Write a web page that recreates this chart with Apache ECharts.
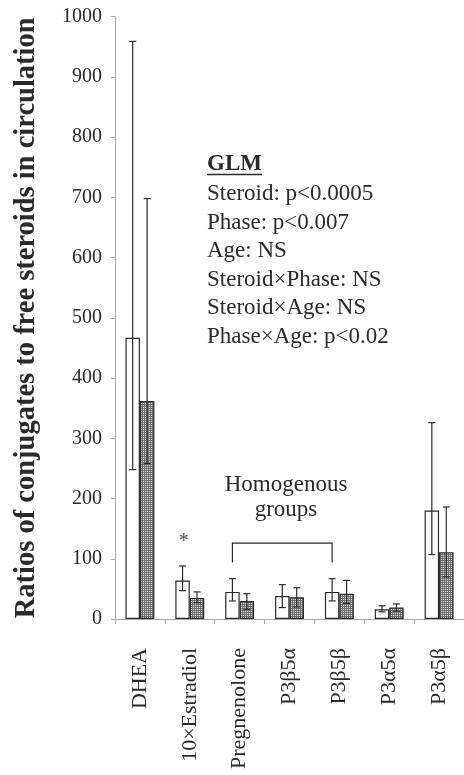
<!DOCTYPE html>
<html>
<head>
<meta charset="utf-8">
<script src="https://cdn.jsdelivr.net/npm/echarts@6/dist/echarts.min.js"></script>
<style>
  html, body { margin: 0; padding: 0; background: #fff; }
  #chart { width: 464px; height: 775px; }
</style>
</head>
<body>
<div id="chart"></div>
<script>
// ── Datos ───────────────────────────────────────────────────────────────────
const categories = ['DHEA', '10×Estradiol', 'Pregnenolone', 'P3β5α', 'P3β5β', 'P3α5α', 'P3α5β'];

// barras blancas (fase 1)
const openMean = [467, 64, 45, 38, 45, 16, 180];
const openLow  = [248, 47, 30, 19, 30, 12, 107];
const openHigh = [959, 88, 67, 57, 67, 22, 326];

// barras punteadas (fase 2)
const dotMean = [362, 35, 30, 36, 42, 19, 111];
const dotLow  = [258, 27, 16, 20, 26, 13, 70];
const dotHigh = [698, 45, 42, 52, 64, 25, 186];

const yMin = 0, yMax = 1000, yStep = 100;

const starCat = 1, starValue = 128;
const bracketCats = [2, 4];           // Pregnenolone .. P3β5β
const bracketLevels = [94, 126];      // extremo inferior, barra superior

const glmTitle = 'GLM';
const glmLines = [
  'Steroid: p<0.0005',
  'Phase: p<0.007',
  'Age: NS',
  'Steroid×Phase: NS',
  'Steroid×Age: NS',
  'Phase×Age: p<0.02',
];
const groupLines = ['Homogenous', 'groups'];

// ── Estilo ──────────────────────────────────────────────────────────────────
const FONT = 'Liberation Serif, Times New Roman, serif';
const INK = '#2a2a2a';
const AXIS = '#a8a8a8';
const BAR_SHIFT = 0.145;   // mitad del ancho de barra, en fracción de categoría

function dotPattern() {
  const c = document.createElement('canvas');
  c.width = 2; c.height = 2;
  const ctx = c.getContext('2d');
  ctx.fillStyle = '#707070';
  ctx.fillRect(0, 0, 2, 2);
  ctx.fillStyle = '#dcdcdc';
  ctx.fillRect(1, 1, 1, 1);
  return c;
}

function errorSeries(low, high, side) {
  return {
    type: 'custom',
    silent: true,
    z: 5,
    data: low.map((l, i) => [i, l, high[i]]),
    renderItem: (params, api) => {
      const w = api.size([1, 0])[0];
      const lo = api.coord([api.value(0), api.value(1)]);
      const hi = api.coord([api.value(0), api.value(2)]);
      const x = lo[0] + side * BAR_SHIFT * w;
      const cap = 3.5;
      const style = { stroke: INK, lineWidth: 1.2, fill: null };
      return {
        type: 'group',
        children: [
          { type: 'line', shape: { x1: x, y1: lo[1], x2: x, y2: hi[1] }, style },
          { type: 'line', shape: { x1: x - cap, y1: hi[1], x2: x + cap, y2: hi[1] }, style },
          { type: 'line', shape: { x1: x - cap, y1: lo[1], x2: x + cap, y2: lo[1] }, style },
        ],
      };
    },
  };
}

const chart = echarts.init(document.getElementById('chart'), null, { renderer: 'canvas' });

chart.setOption({
  animation: false,
  textStyle: { fontFamily: FONT },
  grid: { left: 115, right: 0, top: 16.7, bottom: 156 },
  xAxis: {
    type: 'category',
    data: categories,
    axisLine: { lineStyle: { color: AXIS, width: 1 } },
    axisTick: { show: true, length: 5, lineStyle: { color: AXIS } },
    axisLabel: {
      rotate: 90, interval: 0, margin: 29,
      fontFamily: FONT, fontSize: 22, color: INK,
    },
  },
  yAxis: {
    type: 'value',
    min: yMin, max: yMax, interval: yStep,
    name: 'Ratios of conjugates to free steroids in circulation',
    nameLocation: 'middle',
    nameGap: 74,
    nameTextStyle: { fontFamily: FONT, fontSize: 28.5, fontWeight: 'bold', color: INK },
    axisLine: { show: true, lineStyle: { color: AXIS, width: 1 } },
    axisTick: { show: true, length: 4, lineStyle: { color: AXIS } },
    axisLabel: { fontFamily: FONT, fontSize: 20, color: INK, margin: 13, formatter: v => String(v) },
    splitLine: { show: false },
  },
  series: [
    {
      type: 'bar',
      data: openMean,
      barWidth: '29%',
      barGap: '0%',
      itemStyle: { color: '#fff', borderColor: INK, borderWidth: 1.2 },
    },
    {
      type: 'bar',
      data: dotMean,
      barWidth: '29%',
      barGap: '0%',
      itemStyle: {
        color: { image: dotPattern(), repeat: 'repeat' },
        borderColor: INK, borderWidth: 1.2,
      },
    },
    errorSeries(openLow, openHigh, -1),
    errorSeries(dotLow, dotHigh, 1),
    {
      // asterisco sobre 10×Estradiol
      type: 'scatter',
      symbolSize: 0,
      silent: true,
      data: [[starCat, starValue]],
      label: {
        show: true, position: 'inside', formatter: '*',
        offset: [-6, 0], fontFamily: FONT, fontSize: 20, color: INK,
      },
    },
    {
      // corchete de grupos homogéneos
      type: 'custom',
      silent: true,
      data: [[bracketCats[0], bracketCats[1], bracketLevels[0], bracketLevels[1]]],
      renderItem: (params, api) => {
        const w = api.size([1, 0])[0];
        const a = api.coord([api.value(0), api.value(3)]);
        const b = api.coord([api.value(1), api.value(3)]);
        const lowY = api.coord([api.value(0), api.value(2)])[1];
        const xa = a[0] - BAR_SHIFT * w, xb = b[0] - BAR_SHIFT * w;
        return {
          type: 'polyline',
          shape: { points: [[xa, lowY], [xa, a[1]], [xb, b[1]], [xb, lowY]] },
          style: { stroke: INK, lineWidth: 1.2, fill: null },
        };
      },
    },
  ],
  graphic: [
    {
      type: 'text', left: 207, top: 153,
      style: { text: glmTitle, font: 'bold 23px ' + FONT, fill: INK },
    },
    {
      type: 'line', shape: { x1: 207, y1: 174.5, x2: 262, y2: 174.5 },
      style: { stroke: INK, lineWidth: 1.5 },
    },
    {
      type: 'text', left: 207, top: 180,
      style: { text: glmLines.join('\n'), font: '23px ' + FONT, lineHeight: 28.5, fill: INK },
    },
    {
      type: 'text', x: 286, y: 472,
      style: {
        text: groupLines.join('\n'), font: '23px ' + FONT, lineHeight: 25,
        fill: INK, align: 'center', verticalAlign: 'top',
      },
    },
  ],
});

window.addEventListener('resize', () => chart.resize());
</script>
</body>
</html>
